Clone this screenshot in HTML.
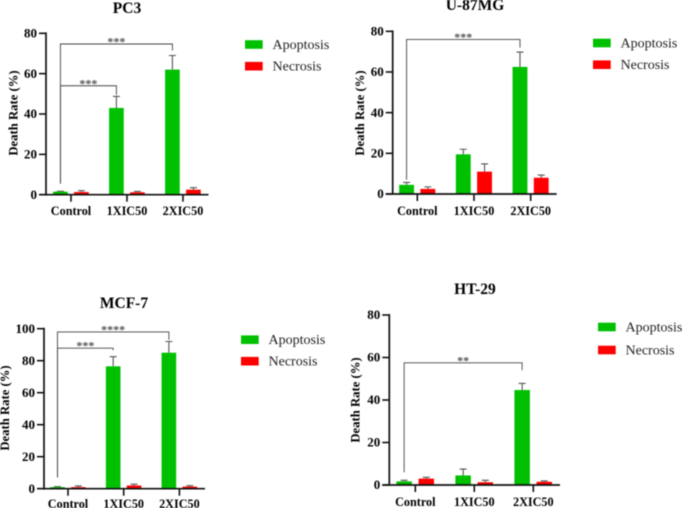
<!DOCTYPE html>
<html lang="en">
<head>
<meta charset="utf-8">
<title>Death rate charts</title>
<style>
html,body{margin:0;padding:0;background:#fff;width:685px;height:508px;overflow:hidden}
svg{display:block;position:absolute;left:0;top:0;filter:blur(0.45px)}
text{font-family:"Liberation Serif",serif;fill:#000}
.b{font-weight:bold}
</style>
</head>
<body>
<svg id="fig" width="685" height="508" viewBox="0 0 685 508" xmlns="http://www.w3.org/2000/svg"></svg>
<script>
const categories = ['Control', '1XIC50', '2XIC50'];
const seriesNames = ['Apoptosis', 'Necrosis'];

const pc3Ticks = [0, 20, 40, 60, 80];
const pc3Apoptosis = [1.5, 43, 62];
const pc3ApoptosisTop = [1.7, 48.7, 69];
const pc3Necrosis = [1.3, 1.2, 2.5];
const pc3NecrosisTop = [2, 1.6, 3.5];

const u87Ticks = [0, 20, 40, 60, 80];
const u87Apoptosis = [4.5, 19.5, 62.5];
const u87ApoptosisTop = [5.7, 22, 69.8];
const u87Necrosis = [2.5, 11, 8];
const u87NecrosisTop = [3.5, 14.8, 9.3];

const mcfTicks = [0, 20, 40, 60, 80, 100];
const mcfApoptosis = [1, 76.5, 85];
const mcfApoptosisTop = [1.3, 82.5, 92];
const mcfNecrosis = [1, 2, 1.3];
const mcfNecrosisTop = [1.7, 2.8, 1.9];

const htTicks = [0, 20, 40, 60, 80];
const htApoptosis = [1.7, 4.5, 44.7];
const htApoptosisTop = [2.2, 7.5, 47.8];
const htNecrosis = [3, 1.3, 1.5];
const htNecrosisTop = [3.6, 2.2, 1.9];

// Significance brackets: [target category, top value, left stem end, right stem end, label]
const pc3Brackets = [[2, 74.7, 5.5, 71.5, '***'], [1, 54, 5.5, 49.5, '***']];
const u87Brackets = [[2, 76, 7, 72, '***']];
const mcfBrackets = [[2, 98, 7, 93, '****'], [1, 87.8, 7, 86.5, '***']];
const htBrackets = [[2, 57.5, 6, 54, '**']];

const panels = [
  {id:'pc3', title:'PC3', ticks:pc3Ticks, a:pc3Apoptosis, aTop:pc3ApoptosisTop, n:pc3Necrosis, nTop:pc3NecrosisTop, br:pc3Brackets,
   axisX:46, y0:194.7, yMax:33.3, xEnd:208.5, first:71, step:56, titleX:127, titleY:13, ylabX:13.5, ylabY:113, tickLabY:215, legX:245, legY:44.5, legGap:21.7},
  {id:'u87', title:'U-87MG', ticks:u87Ticks, a:u87Apoptosis, aTop:u87ApoptosisTop, n:u87Necrosis, nTop:u87NecrosisTop, br:u87Brackets,
   axisX:392.7, y0:194, yMax:31.3, xEnd:556.7, first:417.3, step:56.7, titleX:475, titleY:10, ylabX:360, ylabY:113, tickLabY:215, legX:593, legY:43, legGap:21.7},
  {id:'mcf', title:'MCF-7', ticks:mcfTicks, a:mcfApoptosis, aTop:mcfApoptosisTop, n:mcfNecrosis, nTop:mcfNecrosisTop, br:mcfBrackets,
   axisX:44, y0:488.7, yMax:328.7, xEnd:205, first:68, step:55.7, titleX:124, titleY:308, ylabX:5, ylabY:408, tickLabY:508, legX:241, legY:339.7, legGap:21.5},
  {id:'ht', title:'HT-29', ticks:htTicks, a:htApoptosis, aTop:htApoptosisTop, n:htNecrosis, nTop:htNecrosisTop, br:htBrackets,
   axisX:389.3, y0:485, yMax:315, xEnd:560, first:415.3, step:59, titleX:475, titleY:294, ylabX:355.5, ylabY:400, tickLabY:506, legX:598, legY:327, legGap:23}
];

const GREEN = '#00c000';
const RED = '#ff0000';
const INK = '#111';
const GREY = '#555';
const NS = 'http://www.w3.org/2000/svg';
const root = document.getElementById('fig');

function make(parent, tag, attrs, text) {
  const el = document.createElementNS(NS, tag);
  for (const k in attrs) el.setAttribute(k, attrs[k]);
  if (text !== undefined) el.textContent = text;
  parent.appendChild(el);
  return el;
}

panels.forEach(function (p) {
  const g = make(root, 'g', {});
  
  

  const topTick = p.ticks[p.ticks.length - 1];
  const yScale = function (v) { return p.y0 - (v / topTick) * (p.y0 - p.yMax); };
  const xCenter = function (i) { return p.first + i * p.step; };
  const barW = p.step * 0.262;
  const barX = function (i, s) { return xCenter(i) + (s === 0 ? -p.step * 0.32 : p.step * 0.055); };

  const title = make(g, 'text', {x:p.titleX, y:p.titleY, 'text-anchor':'middle', class:'b', 'font-size':15.5}, p.title);
  
  

  const ylab = make(g, 'text', {x:0, y:0, 'text-anchor':'middle', class:'b', 'font-size':12.7,
    transform:'translate(' + (p.ylabX + 4) + ' ' + p.ylabY + ') rotate(-90)'}, 'Death Rate (%)');
  
  

  // bars and error bars
  [[p.a, p.aTop, GREEN, 'apoptosis'], [p.n, p.nTop, RED, 'necrosis']].forEach(function (row, s) {
    row[0].forEach(function (v, i) {
      const x = barX(i, s);
      const top = yScale(row[1][i]);
      const cx = x + barW / 2;
      const err = make(g, 'path', {d:'M' + cx + ' ' + yScale(v) + 'V' + top + 'M' + (cx - 3.5) + ' ' + top + 'H' + (cx + 3.5),
        stroke:GREY, 'stroke-width':1.1, fill:'none'});
      
      
      const bar = make(g, 'rect', {x:x, y:yScale(v), width:barW, height:p.y0 - yScale(v), fill:row[2]});
      
      
    });
  });

  // brackets
  const bracketLeft = barX(0, 0) + barW / 2;
  p.br.forEach(function (b) {
    const right = barX(b[0], 0) + barW / 2;
    const yTop = yScale(b[1]);
    const line = make(g, 'path', {d:'M' + bracketLeft + ' ' + yScale(b[2]) + 'V' + yTop + 'H' + right + 'V' + yScale(b[3]),
      stroke:'#444', 'stroke-width':0.9, fill:'none'});
    
    
    const star = make(g, 'text', {x:(bracketLeft + right) / 2, y:yTop + 1.5, 'text-anchor':'middle', 'font-size':12, 'font-weight':'bold', style:'fill:#555'}, b[4]);
    
    
  });

  // axes
  const axes = make(g, 'path', {d:'M' + p.axisX + ' ' + (p.yMax - 0.9) + 'V' + (p.y0 + 0.9) + 'M' + (p.axisX - 7) + ' ' + p.y0 + 'H' + p.xEnd,
    stroke:INK, 'stroke-width':1.7, fill:'none'});
  
  

  p.ticks.forEach(function (t) {
    const y = yScale(t);
    const tk = make(g, 'line', {x1:p.axisX - 7, x2:p.axisX, y1:y, y2:y, stroke:INK, 'stroke-width':1.6});
    
    
    const lab = make(g, 'text', {x:p.axisX - 9, y:y + 4.2, 'text-anchor':'end', class:'b', 'font-size':13}, String(t));
    
    
  });

  categories.forEach(function (c, i) {
    const x = xCenter(i);
    const tk = make(g, 'line', {x1:x, x2:x, y1:p.y0, y2:p.y0 + 7, stroke:INK, 'stroke-width':1.6});
    
    
    const lab = make(g, 'text', {x:x, y:p.tickLabY, 'text-anchor':'middle', class:'b', 'font-size':12.2}, c);
    
    
  });

  // legend
  seriesNames.forEach(function (n, s) {
    const ly = p.legY + s * p.legGap;
    const sw = make(g, 'rect', {x:p.legX, y:ly - 4.3, width:17.7, height:8.6, fill:s === 0 ? GREEN : RED});
    
    
    const t = make(g, 'text', {x:p.legX + 27.5, y:ly + 4.5, 'font-size':14, style:'fill:#222'}, n);
    
    
  });
});
</script>
</body>
</html>
